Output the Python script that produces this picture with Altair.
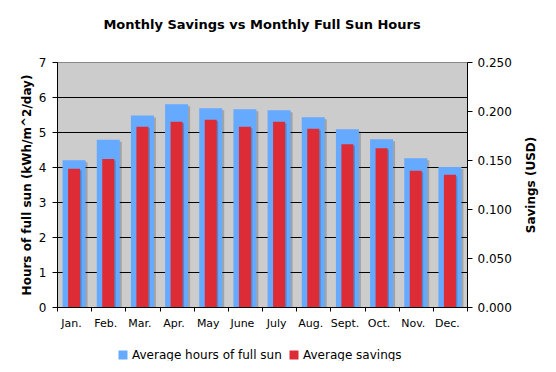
import altair as alt
import pandas as pd

months = ["Jan.", "Feb.", "Mar.", "Apr.", "May", "June", "July", "Aug.", "Sept.", "Oct.", "Nov.", "Dec."]
sun_hours = [4.19, 4.78, 5.47, 5.79, 5.68, 5.65, 5.62, 5.42, 5.08, 4.79, 4.25, 4.00]
savings = [0.141, 0.151, 0.184, 0.189, 0.191, 0.184, 0.189, 0.182, 0.166, 0.162, 0.139, 0.135]
series_names = ["Average hours of full sun", "Average savings"]
series_colors = ["#66aaff", "#dd2c35"]
left_ticks = [0, 1, 2, 3, 4, 5, 6, 7]
right_ticks = [0.0, 0.05, 0.10, 0.15, 0.20, 0.25]

df = pd.DataFrame({"month": months, "hours": sun_hours, "savings": savings})
FONT = "DejaVu Sans"

x_enc = alt.X(
    "month:N", sort=months,
    scale=alt.Scale(paddingInner=0, paddingOuter=0),
    axis=alt.Axis(title=None, labelAngle=0, tickBand="extent", grid=False,
                  domainColor="black", tickColor="black", tickSize=4,
                  labelPadding=6, labelFontSize=11, labelFont=FONT,
                  labelColor="black", labelOffset=-3),
)

left_axis = alt.Axis(
    values=left_ticks, title="Hours of full sun (kWh/m^2/day)",
    titleFont=FONT, titleFontSize=12, titleFontWeight="bold", titleColor="black",
    titlePadding=5, labelFont=FONT, labelFontSize=12, labelColor="black",
    labelPadding=6, tickSize=5, tickColor="black", domainColor="black",
    grid=True,
    gridColor={"condition": {"test": "datum.value == 7", "value": "#888888"}, "value": "black"},
    gridWidth=1,
)
right_axis = alt.Axis(
    orient="right", values=right_ticks, format=".3f", grid=False,
    title="Savings (USD)", titleAngle=270, titleBaseline="top",
    titleFont=FONT, titleFontSize=12, titleFontWeight="bold", titleColor="black",
    titlePadding=14, labelFont=FONT, labelFontSize=12, labelColor="black",
    labelPadding=5, tickSize=5, tickColor="black", domainColor="black",
)

y_left = alt.Y("hours:Q", scale=alt.Scale(domain=[0, 7], nice=False), axis=left_axis)
y_right = alt.Y("savings:Q", scale=alt.Scale(domain=[0, 0.25], nice=False), axis=right_axis)

color_scale = alt.Scale(domain=series_names, range=series_colors)
legend = alt.Legend(
    title=None, orient="none", legendX=60, legendY=287, direction="horizontal",
    symbolType="square", symbolSize=81, symbolStrokeWidth=0,
    labelFontSize=12, labelFont=FONT, labelColor="black", labelOffset=3,
    columnPadding=6, padding=0, labelLimit=300,
)
color_enc = alt.Color("series:N", scale=color_scale, legend=legend)

base = alt.Chart(df)
blue_shadow = base.mark_bar(size=23, color="black", opacity=0.2, xOffset=2, yOffset=2, clip=True).encode(
    x=x_enc, y=y_left)
blue = base.mark_bar(size=23).transform_calculate(
    series=f"'{series_names[0]}'").encode(x=x_enc, y=y_left, color=color_enc)
red_shadow = base.mark_bar(size=12, color="black", opacity=0.2, xOffset=1.5, yOffset=1.5, clip=True).encode(
    x=x_enc, y=y_right)
red = base.mark_bar(size=12).transform_calculate(
    series=f"'{series_names[1]}'").encode(x=x_enc, y=y_right, color=color_enc)

chart = alt.layer(
    alt.layer(blue_shadow, blue),
    alt.layer(red_shadow, red),
).resolve_scale(y="independent").properties(
    width=410, height=245,
    title=alt.TitleParams("Monthly Savings vs Monthly Full Sun Hours", font=FONT, fontSize=13,
                          fontWeight="bold", color="black", anchor="middle", frame="group", offset=24),
    autosize=alt.AutoSizeParams(type="none"),
    padding={"left": 49, "top": 54, "right": 78, "bottom": 54},
).configure_view(fill="#cccccc", stroke="#888888")

chart.save("out.html", embed_options={"renderer": "svg", "actions": False})
